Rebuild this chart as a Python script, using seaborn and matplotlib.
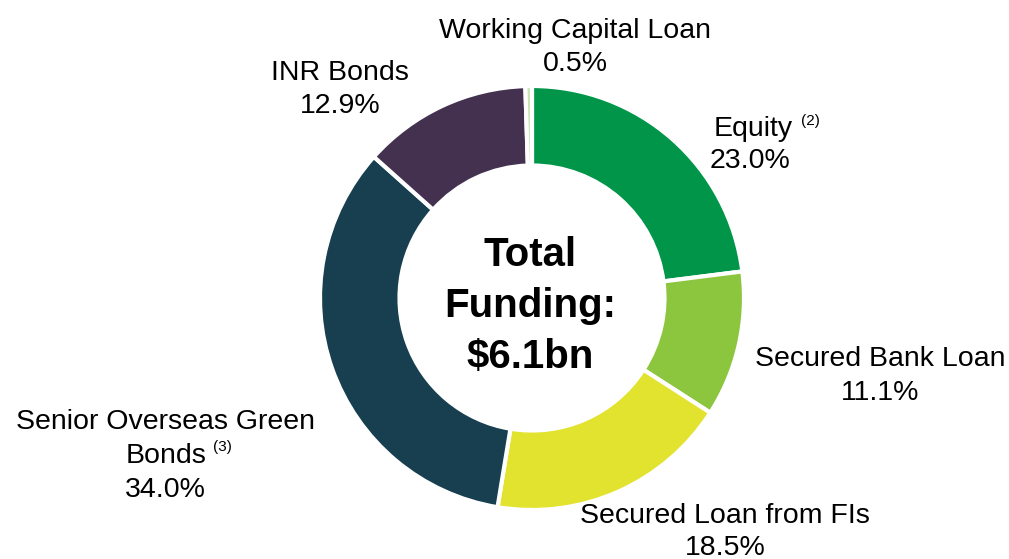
import matplotlib.pyplot as plt
import seaborn as sns

# funding mix, clockwise from 12 o'clock
segments = ["Equity", "Secured Bank Loan", "Secured Loan from FIs",
            "Senior Overseas Green Bonds", "INR Bonds", "Working Capital Loan"]
shares = [23.0, 11.1, 18.5, 34.0, 12.9, 0.5]
colors = ["#009549", "#8cc63f", "#e1e32e", "#173f4f", "#43314f", "#c8e3b5"]
center_text = ["Total", "Funding:", "$6.1bn"]

sns.set_theme(style="white")
plt.rcParams["font.family"] = ["Liberation Sans", "DejaVu Sans"]
plt.rcParams["text.color"] = "black"

W, H = 1009, 559
fig = plt.figure(figsize=(W / 100, H / 100), dpi=100)
ax = fig.add_axes([0, 0, 1, 1])

cx, cy, R = 532, H - 298, 212
ax.pie(shares, colors=colors, startangle=90, counterclock=False,
       center=(cx, cy), radius=R,
       wedgeprops=dict(width=R * 0.375, edgecolor="white", linewidth=3))
ax.set_xlim(0, W)
ax.set_ylim(0, H)
ax.set_aspect("equal")
ax.axis("off")

def y(p):
    return H - p

fs = 20.5
lab = dict(fontsize=fs, ha="center", va="center", color="black")
sup = dict(fontsize=11, ha="left", va="center", color="black")

ax.text(575, y(31), "Working Capital Loan", **lab)
ax.text(575, y(64), f"{shares[5]:.1f}%", **lab)

ax.text(340, y(73), "INR Bonds", **lab)
ax.text(340, y(106), f"{shares[4]:.1f}%", **lab)

ax.text(793, y(129), "Equity", ha="right", va="center", fontsize=fs, color="black")
ax.text(801, y(121), "(2)", **sup)
ax.text(750, y(161), f"{shares[0]:.1f}%", **lab)

ax.text(880, y(359), "Secured Bank Loan", **lab)
ax.text(880, y(393), f"{shares[1]:.1f}%", **lab)

ax.text(725, y(516), "Secured Loan from FIs", **lab)
ax.text(725, y(548), f"{shares[2]:.1f}%", **lab)

ax.text(165, y(422), "Senior Overseas Green", **lab)
ax.text(206, y(456), "Bonds", ha="right", va="center", fontsize=fs, color="black")
ax.text(213, y(447), "(3)", **sup)
ax.text(165, y(490), f"{shares[3]:.1f}%", **lab)

for txt, py in zip(center_text, [255, 306, 357]):
    ax.text(530, y(py), txt, ha="center", va="center",
            fontsize=29, fontweight="bold", color="black")

fig.savefig("out.png", dpi=100)
